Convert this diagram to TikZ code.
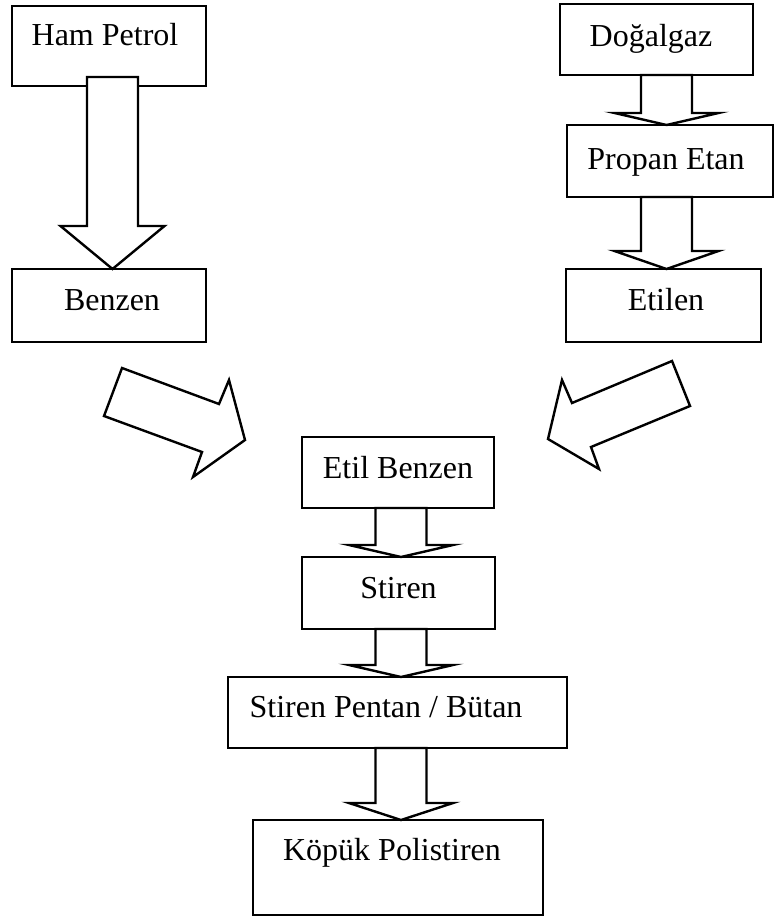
\documentclass[tikz,border=0pt]{standalone}
\usepackage{fontspec}
\setmainfont{Liberation Serif}
\usetikzlibrary{calc}
\tikzset{
  box/.style={draw, line width=2.4pt, rectangle, inner sep=0pt, outer sep=0pt,
    text height=23pt, font=\fontsize{32}{38}\selectfont},
  blockarrow/.style={draw, fill=white, line width=2.4pt, line join=miter},
}
% #1 from node, #2 to node, #3 x centre, #4 head length, #5 raise of shaft start
\newcommand\blockdown[5]{%
  \draw[blockarrow] let \p1=(#1.south), \p2=(#2.north) in
    ({(#3-25.5)*1pt},{\y1+#5*1pt}) -- ({(#3-25.5)*1pt},{\y2+#4*1pt})
    -- ({(#3-52)*1pt},{\y2+#4*1pt}) -- ({#3*1pt},\y2)
    -- ({(#3+52)*1pt},{\y2+#4*1pt}) -- ({(#3+25.5)*1pt},{\y2+#4*1pt})
    -- ({(#3+25.5)*1pt},{\y1+#5*1pt}) -- cycle;}
\begin{document}
\begin{tikzpicture}[x=1pt,y=-1pt]
\useasboundingbox (0,0) rectangle (776,920);
% boxes
\node[box, minimum width=194pt, minimum height=80pt, text depth=23pt] (ham) at (109,46) {Ham Petrol\hspace*{8pt}};
\node[box, minimum width=194pt, minimum height=73pt, text depth=14pt] (benzen) at (109,305.5) {\hspace*{6pt}Benzen};
\node[box, minimum width=193pt, minimum height=71pt, text depth=8pt] (dogal) at (656.5,39.5) {Doğalgaz\hspace*{11pt}};
\node[box, minimum width=206pt, minimum height=72pt, text depth=5pt] (propan) at (670,161) {Propan Etan\hspace*{8pt}};
\node[box, minimum width=195pt, minimum height=73pt, text depth=14pt] (etilen) at (663.5,305.5) {\hspace*{5pt}Etilen};
\node[box, minimum width=192pt, minimum height=71pt, text depth=12pt] (etilb) at (398,472.5) {Etil Benzen};
\node[box, minimum width=193pt, minimum height=72pt, text depth=13pt] (stiren) at (398.5,593) {Stiren};
\node[box, minimum width=339pt, minimum height=71pt, text depth=14pt] (spb) at (397.5,712.5) {Stiren Pentan / Bütan\hspace*{23pt}};
\node[box, minimum width=290pt, minimum height=95pt, text depth=38pt] (kopuk) at (398,867.5) {Köpük Polistiren\hspace*{12pt}};
% vertical block arrows
\blockdown{ham}{benzen}{112.5}{43}{9}
\blockdown{dogal}{propan}{666.5}{12}{0}
\blockdown{propan}{etilen}{666.5}{18}{0}
\blockdown{etilb}{stiren}{401}{12}{0}
\blockdown{stiren}{spb}{401}{12}{0}
\blockdown{spb}{kopuk}{401}{17}{0}
% diagonal block arrows
\draw[blockarrow] (122,368) -- (219,404) -- (229,380) -- (245,440) -- (193,477) -- (202,452) -- (104,416) -- cycle;
\draw[blockarrow] (672,361) -- (690,406) -- (591,447) -- (599,469) -- (548,439) -- (562,380) -- (572,403) -- cycle;
\end{tikzpicture}
\end{document}
